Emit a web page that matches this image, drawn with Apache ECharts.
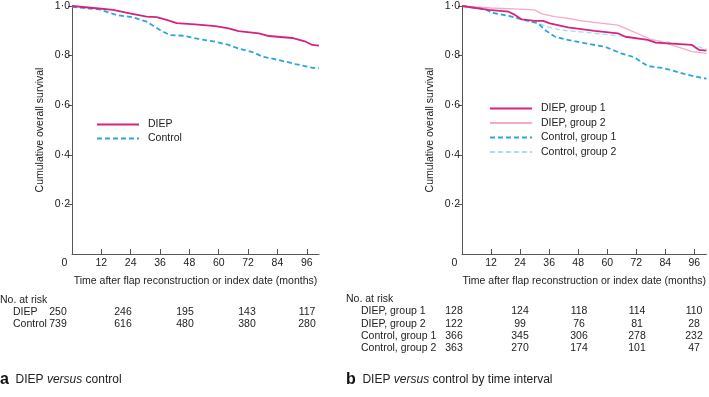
<!DOCTYPE html>
<html>
<head>
<meta charset="utf-8">
<script src="https://cdn.jsdelivr.net/npm/echarts@6/dist/echarts.min.js"></script>
<style>
  html, body { margin: 0; padding: 0; background: #fff; }
  #chart { width: 709px; height: 397px; }
</style>
</head>
<body>
<div id="chart"></div>
<script>
// survival curves, [month, cumulative survival]
const diepA = [[0, 1.0], [11, 0.99], [16.8, 0.984], [23.6, 0.97], [30.5, 0.957], [34.6, 0.955], [38.7, 0.944], [42.8, 0.931],
  [50.3, 0.926], [58.6, 0.919], [64, 0.91], [68.1, 0.899], [76.4, 0.89], [80.5, 0.879], [90, 0.871], [95.6, 0.856],
  [98.3, 0.843], [101, 0.84]]
const controlA = [[0, 0.997], [11.3, 0.986], [18.2, 0.964], [25, 0.954], [30.5, 0.937], [36, 0.903], [40, 0.883],
  [45.5, 0.88], [51.7, 0.867], [58.6, 0.856], [64, 0.843], [68, 0.829], [74.3, 0.813], [77.8, 0.796], [84.6, 0.782],
  [91.5, 0.766], [98.3, 0.751], [101, 0.749]]
const diepG1 = [[0, 1.0], [11, 0.984], [19.2, 0.977], [21.9, 0.964], [24.7, 0.946], [30, 0.94], [33.5, 0.94], [36.3, 0.93],
  [43.8, 0.914], [54.8, 0.9], [64.4, 0.89], [67.5, 0.876], [76.7, 0.863], [80, 0.852], [95, 0.843], [98, 0.823], [101, 0.82]]
const diepG2 = [[0, 1.0], [12, 0.992], [23.3, 0.987], [30, 0.984], [32.9, 0.968], [38.3, 0.957], [43.8, 0.95], [49.3, 0.94],
  [64.4, 0.923], [78, 0.866], [83.6, 0.852], [95.2, 0.816], [101, 0.809]]
const controlG1 = [[0, 1.0], [9.6, 0.987], [12.3, 0.973], [19.2, 0.96], [24.7, 0.946], [31.5, 0.93], [34.2, 0.903],
  [38.3, 0.877], [43.8, 0.863], [50.7, 0.85], [58.9, 0.836], [65.8, 0.809], [71.2, 0.793], [76.7, 0.758], [83.6, 0.749],
  [91.8, 0.726], [98.6, 0.711], [101, 0.707]]
const controlG2 = [[0, 1.0], [9.6, 0.987], [12.3, 0.973], [19.2, 0.96], [24.7, 0.946], [31.5, 0.93], [35.6, 0.915],
  [39.7, 0.906], [43.8, 0.9], [52, 0.893], [65.8, 0.879], [67, 0.876], [82, 0.858], [96, 0.84], [101, 0.826]]

// axis ticks
const xTicks = [0, 12, 24, 36, 48, 60, 72, 84, 96]
const yTicks = [0.2, 0.4, 0.6, 0.8, 1.0]

// numbers at risk (at 0, 24, 48, 72, 96 months)
const riskA = ['DIEP', 'Control']
const riskDiep = [250, 246, 195, 143, 117]
const riskControl = [739, 616, 480, 380, 280]
const riskB = ['DIEP, group 1', 'DIEP, group 2', 'Control, group 1', 'Control, group 2']
const riskDiepG1 = [128, 124, 118, 114, 110]
const riskDiepG2 = [122, 99, 76, 81, 28]
const riskControlG1 = [366, 345, 306, 278, 232]
const riskControlG2 = [363, 270, 174, 101, 47]

const font = '"Liberation Sans", Arial, sans-serif'
const fs = 10.5
const txt = '#222'
const axisColor = '#555'
const magenta = '#d6237f'
const pink = '#f4a9c9'
const blue = '#2aa6dc'
const lightBlue = '#a9dcf2'

const chart = echarts.init(document.getElementById('chart'))

function xAxisFor(i) {
  return {
    gridIndex: i, type: 'value', min: 0, max: 101, interval: 12,
    name: 'Time after flap reconstruction or index date (months)',
    nameLocation: 'middle', nameGap: 22,
    nameTextStyle: { fontSize: fs, color: txt, fontFamily: font },
    axisLine: { lineStyle: { color: axisColor, width: 1 } },
    axisTick: { inside: true, length: 5, lineStyle: { color: axisColor }, customValues: xTicks.slice(1) },
    axisLabel: {
      customValues: xTicks, fontSize: fs, color: txt, fontFamily: font, margin: 4,
      formatter: v => v === 0 ? '{z|0}' : String(v),
      rich: { z: { padding: [0, 15, 0, 0], fontSize: fs, color: txt, fontFamily: font } }
    },
    splitLine: { show: false }
  }
}

function yAxisFor(i) {
  return {
    gridIndex: i, type: 'value', min: 0, max: 1, interval: 0.2,
    name: 'Cumulative overall survival',
    nameLocation: 'middle', nameGap: 26,
    nameTextStyle: { fontSize: fs, color: txt, fontFamily: font },
    axisLine: { show: true, lineStyle: { color: axisColor, width: 1 } },
    axisTick: { show: true, length: 4, lineStyle: { color: axisColor }, customValues: yTicks },
    axisLabel: {
      customValues: yTicks, fontSize: fs, color: txt, fontFamily: font, margin: 2,
      formatter: v => v.toFixed(1).replace('.', '·')
    },
    splitLine: { show: false }
  }
}

function line(name, data, axis, color, width, dashed, z) {
  return {
    name, type: 'line', data, xAxisIndex: axis, yAxisIndex: axis,
    symbol: 'none', showSymbol: false, z,
    itemStyle: { color },
    lineStyle: { color, width, type: dashed ? [5, 3] : 'solid' },
    emphasis: { disabled: true }
  }
}

// no. at risk tables
const graphic = []
function addText(x, y, text, align) {
  graphic.push({
    type: 'text', x, y,
    style: { text, fill: txt, font: fs + 'px ' + font, textAlign: align || 'left', textVerticalAlign: 'middle' }
  })
}
const colA = [58, 123, 185, 247, 307]
const colB = [454, 520, 579, 637, 694]
addText(0, 300, 'No. at risk')
;[riskDiep, riskControl].forEach((row, r) => {
  addText(13, 312.5 + r * 12, riskA[r])
  row.forEach((v, k) => addText(colA[k], 312.5 + r * 12, String(v), 'center'))
})
addText(346, 299.5, 'No. at risk')
;[riskDiepG1, riskDiepG2, riskControlG1, riskControlG2].forEach((row, r) => {
  addText(361, 311.5 + r * 12.3, riskB[r])
  row.forEach((v, k) => addText(colB[k], 311.5 + r * 12.3, String(v), 'center'))
})

// panel captions
const cap = {
  b: { fontSize: 16, fontWeight: 'bold', fill: '#111', fontFamily: font },
  n: { fontSize: 12, fill: txt, fontFamily: font },
  i: { fontSize: 12, fill: txt, fontStyle: 'italic', fontFamily: font }
}
graphic.push({ type: 'text', left: 0, top: 372, style: { text: '{b|a}  {n|DIEP }{i|versus}{n| control}', rich: cap } })
graphic.push({ type: 'text', left: 346, top: 372, style: { text: '{b|b}  {n|DIEP }{i|versus}{n| control by time interval}', rich: cap } })

const legendBase = {
  orient: 'vertical', padding: 0, itemWidth: 42, itemHeight: 10, selectedMode: false,
  itemStyle: { opacity: 0, borderWidth: 0 },
  textStyle: { fontSize: fs, color: txt, fontFamily: font, padding: [0, 0, 0, 4] }
}

chart.setOption({
  animation: false,
  textStyle: { fontFamily: font },
  grid: [
    { left: 72, top: 6, width: 247, height: 248 },
    { left: 462, top: 6, width: 247, height: 248 }
  ],
  xAxis: [xAxisFor(0), xAxisFor(1)],
  yAxis: [yAxisFor(0), yAxisFor(1)],
  legend: [
    Object.assign({}, legendBase, { data: ['DIEP', 'Control'], left: 96, top: 119, itemGap: 3 }),
    Object.assign({}, legendBase, {
      data: ['DIEP, group 1', 'DIEP, group 2', 'Control, group 1', 'Control, group 2'],
      left: 489, top: 103, itemGap: 3.5
    })
  ],
  series: [
    line('Control', controlA, 0, blue, 1.8, true, 2),
    line('DIEP', diepA, 0, magenta, 1.8, false, 3),
    line('Control, group 2', controlG2, 1, lightBlue, 1.3, true, 1),
    line('DIEP, group 2', diepG2, 1, pink, 1.3, false, 2),
    line('Control, group 1', controlG1, 1, blue, 1.8, true, 3),
    line('DIEP, group 1', diepG1, 1, magenta, 1.8, false, 4)
  ],
  graphic
})
window.addEventListener('resize', chart.resize)
</script>
</body>
</html>
